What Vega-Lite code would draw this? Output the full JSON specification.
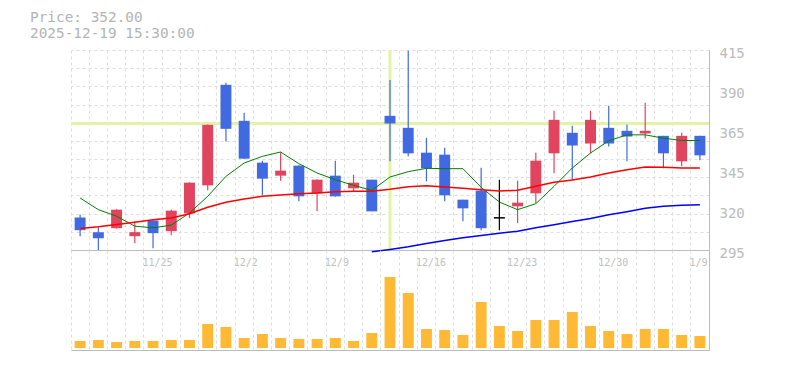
{
  "$schema": "https://vega.github.io/schema/vega-lite/v6.json",
  "background": "white",
  "padding": {"left": 30, "top": 10, "right": 5, "bottom": 5},
  "bounds": "flush",
  "spacing": 0,
  "title": {
    "text": ["Price: 352.00", "2025-12-19 15:30:00"],
    "anchor": "start",
    "frame": "group",
    "dx": -41,
    "offset": 5,
    "font": "DejaVu Sans Mono",
    "fontSize": 14.4,
    "fontWeight": "normal",
    "color": "#b4b4b4",
    "lineHeight": 15.3
  },
  "config": {
    "view": {"stroke": null},
    "font": "DejaVu Sans Mono",
    "axis": {
      "gridColor": "#dddddd",
      "gridDash": [3, 3],
      "gridWidth": 1,
      "domainColor": "#bbbbbb",
      "domainWidth": 1,
      "ticks": false,
      "labelOverlap": false,
      "labelFlush": false,
      "labelFont": "DejaVu Sans Mono",
      "labelColor": "#bbbbbb"
    }
  },
  "data": {
    "values": [
      {"date": "11/18", "open": 314.5, "high": 316.2, "low": 303.3, "close": 306.9, "volume": 7000, "ma_short": 326.2, "ma_mid": 307.9, "ma_long": null},
      {"date": "11/19", "open": 305.7, "high": 308.7, "low": 295.0, "close": 302.1, "volume": 8000, "ma_short": 319.2, "ma_mid": 308.9, "ma_long": null},
      {"date": "11/20", "open": 308.1, "high": 319.4, "low": 307.9, "close": 319.2, "volume": 6000, "ma_short": 315.3, "ma_mid": 310.3, "ma_long": null},
      {"date": "11/21", "open": 303.3, "high": 312.3, "low": 299.1, "close": 305.7, "volume": 7000, "ma_short": 309.3, "ma_mid": 311.7, "ma_long": null},
      {"date": "11/25", "open": 312.7, "high": 312.7, "low": 296.1, "close": 305.1, "volume": 7000, "ma_short": 308.3, "ma_mid": 313.1, "ma_long": null},
      {"date": "11/26", "open": 306.3, "high": 319.2, "low": 303.9, "close": 318.6, "volume": 8000, "ma_short": 309.9, "ma_mid": 314.2, "ma_long": null},
      {"date": "11/27", "open": 317.0, "high": 335.6, "low": 314.1, "close": 335.4, "volume": 8000, "ma_short": 317.2, "ma_mid": 316.8, "ma_long": null},
      {"date": "11/28", "open": 333.8, "high": 370.3, "low": 330.8, "close": 370.1, "volume": 24000, "ma_short": 327.2, "ma_mid": 320.6, "ma_long": null},
      {"date": "12/1", "open": 394.1, "high": 395.3, "low": 360.1, "close": 367.7, "volume": 21000, "ma_short": 339.2, "ma_mid": 323.6, "ma_long": null},
      {"date": "12/2", "open": 372.5, "high": 377.3, "low": 349.6, "close": 349.8, "volume": 10000, "ma_short": 347.2, "ma_mid": 325.6, "ma_long": null},
      {"date": "12/3", "open": 347.4, "high": 348.6, "low": 327.8, "close": 337.8, "volume": 14000, "ma_short": 351.2, "ma_mid": 327.2, "ma_long": null},
      {"date": "12/4", "open": 339.6, "high": 353.6, "low": 336.6, "close": 342.6, "volume": 10000, "ma_short": 353.8, "ma_mid": 328.0, "ma_long": null},
      {"date": "12/5", "open": 345.6, "high": 345.8, "low": 324.2, "close": 327.2, "volume": 9000, "ma_short": 346.8, "ma_mid": 328.8, "ma_long": null},
      {"date": "12/8", "open": 329.0, "high": 337.4, "low": 318.2, "close": 337.2, "volume": 9000, "ma_short": 341.2, "ma_mid": 329.2, "ma_long": null},
      {"date": "12/9", "open": 339.6, "high": 348.6, "low": 327.0, "close": 327.2, "volume": 10000, "ma_short": 337.2, "ma_mid": 330.0, "ma_long": null},
      {"date": "12/10", "open": 332.0, "high": 340.2, "low": 330.2, "close": 335.4, "volume": 7000, "ma_short": 333.8, "ma_mid": 330.2, "ma_long": null},
      {"date": "12/11", "open": 337.2, "high": 337.2, "low": 318.2, "close": 318.2, "volume": 15000, "ma_short": 330.8, "ma_mid": 330.2, "ma_long": 293.9},
      {"date": "12/12", "open": 375.5, "high": 397.0, "low": 348.2, "close": 370.9, "volume": 71000, "ma_short": 338.8, "ma_mid": 331.4, "ma_long": 295.3},
      {"date": "12/15", "open": 368.3, "high": 414.5, "low": 351.2, "close": 353.0, "volume": 55000, "ma_short": 342.0, "ma_mid": 333.0, "ma_long": 296.9},
      {"date": "12/16", "open": 353.4, "high": 362.3, "low": 336.2, "close": 344.0, "volume": 19000, "ma_short": 344.0, "ma_mid": 333.6, "ma_long": 298.9},
      {"date": "12/17", "open": 352.2, "high": 356.4, "low": 324.2, "close": 327.8, "volume": 18000, "ma_short": 343.8, "ma_mid": 332.8, "ma_long": 300.7},
      {"date": "12/18", "open": 325.2, "high": 325.2, "low": 312.3, "close": 320.0, "volume": 13000, "ma_short": 343.8, "ma_mid": 332.0, "ma_long": 302.3},
      {"date": "12/19", "open": 330.6, "high": 344.4, "low": 306.9, "close": 308.1, "volume": 46000, "ma_short": 332.6, "ma_mid": 331.2, "ma_long": 303.7},
      {"date": "12/22", "open": 314.3, "high": 337.2, "low": 306.9, "close": 314.3, "volume": 22000, "ma_short": 323.8, "ma_mid": 330.4, "ma_long": 305.0},
      {"date": "12/23", "open": 321.2, "high": 336.6, "low": 311.1, "close": 323.4, "volume": 17000, "ma_short": 319.2, "ma_mid": 330.8, "ma_long": 306.3},
      {"date": "12/24", "open": 329.0, "high": 353.4, "low": 323.2, "close": 348.6, "volume": 28000, "ma_short": 322.8, "ma_mid": 333.2, "ma_long": 308.3},
      {"date": "12/25", "open": 353.0, "high": 378.5, "low": 341.0, "close": 373.1, "volume": 28000, "ma_short": 333.2, "ma_mid": 335.6, "ma_long": 310.1},
      {"date": "12/26", "open": 365.3, "high": 369.5, "low": 336.8, "close": 357.7, "volume": 36000, "ma_short": 344.2, "ma_mid": 337.0, "ma_long": 312.1},
      {"date": "12/29", "open": 358.9, "high": 378.5, "low": 353.0, "close": 373.1, "volume": 22000, "ma_short": 353.2, "ma_mid": 338.8, "ma_long": 313.9},
      {"date": "12/30", "open": 368.3, "high": 381.5, "low": 357.1, "close": 358.9, "volume": 17000, "ma_short": 360.5, "ma_mid": 341.2, "ma_long": 316.1},
      {"date": "1/5", "open": 366.5, "high": 370.1, "low": 348.2, "close": 363.1, "volume": 14000, "ma_short": 364.1, "ma_mid": 343.2, "ma_long": 318.0},
      {"date": "1/6", "open": 364.9, "high": 383.3, "low": 361.9, "close": 366.5, "volume": 19000, "ma_short": 364.1, "ma_mid": 344.8, "ma_long": 320.0},
      {"date": "1/7", "open": 363.5, "high": 363.5, "low": 344.0, "close": 353.0, "volume": 19000, "ma_short": 362.1, "ma_mid": 344.6, "ma_long": 321.2},
      {"date": "1/8", "open": 348.2, "high": 365.3, "low": 345.2, "close": 363.5, "volume": 13000, "ma_short": 360.7, "ma_mid": 344.2, "ma_long": 321.8},
      {"date": "1/9", "open": 363.5, "high": 363.5, "low": 348.8, "close": 351.8, "volume": 12000, "ma_short": 360.7, "ma_mid": 344.2, "ma_long": 322.2}
    ]
  },
  "vconcat": [
    {
      "width": 638,
      "height": 200,
      "layer": [
        {
          "mark": {"type": "rule", "color": "#e3f3a6", "strokeWidth": 3},
          "encoding": {
            "y": {
              "field": "close", "type": "quantitative",
              "scale": {"domain": [295, 415], "zero": false, "nice": false},
              "title": null,
              "axis": {
                "orient": "right",
                "values": [295, 305.909, 316.818, 327.727, 338.636, 349.545, 360.455, 371.364, 382.273, 393.182, 404.091, 415],
                "tickCount": 30,
                "grid": true, "labels": false, "ticks": false, "domain": false,
                "minExtent": 0, "maxExtent": 0, "title": null
              }
            },
            "strokeOpacity": {"condition": {"test": "datum.date == '12/12'", "value": 1}, "value": 0}
          }
        },
        {
          "layer": [
            {
              "mark": {"type": "rule", "color": "#e3f3a6", "strokeWidth": 3},
              "encoding": {
                "x": {
                  "field": "date", "type": "ordinal", "sort": null,
                  "scale": {"paddingInner": 0, "paddingOuter": 0},
                  "title": null,
                  "axis": {
                    "grid": true, "bandPosition": 0, "ticks": false, "domain": true,
                    "labelExpr": "indexof(['11/25','12/2','12/9','12/16','12/23','12/30','1/9'], datum.value) >= 0 ? datum.value : ''",
                    "labelAngle": 0, "labelAlign": "left", "labelBaseline": "top",
                    "labelOffset": -10.5, "labelPadding": 7, "labelFontSize": 10,
                    "labelColor": "#c0c0c0", "labelOverlap": false, "labelFlush": false, "labelBound": false,
                    "title": null
                  }
                },
                "strokeOpacity": {"condition": {"test": "datum.date == '12/12'", "value": 1}, "value": 0}
              }
            },
            {
              "mark": {"type": "rule", "strokeWidth": 1.2},
              "encoding": {
                "x": {"field": "date", "type": "ordinal", "sort": null},
                "y": {
                  "field": "low", "type": "quantitative", "title": null,
                  "axis": {
                    "orient": "right",
                    "values": [295, 319, 343, 367, 391, 415],
                    "tickCount": 30,
                    "labelExpr": "format(round(datum.value / 5) * 5, 'd')",
                    "grid": false, "ticks": false, "domain": true,
                    "labelPadding": 10, "labelAlign": "left", "labelBaseline": "middle",
                    "labelOffset": 3, "labelFontSize": 14, "labelColor": "#bbbbbb",
                    "labelFlush": false, "labelOverlap": false, "title": null
                  }
                },
                "y2": {"field": "high"},
                "color": {
                  "condition": [
                    {"test": "datum.close > datum.open", "value": "#e0445e"},
                    {"test": "datum.close < datum.open", "value": "#4169e1"}
                  ],
                  "value": "#000000"
                }
              }
            },
            {
              "mark": {"type": "bar", "width": {"band": 0.6}},
              "encoding": {
                "x": {"field": "date", "type": "ordinal", "sort": null},
                "y": {"field": "open", "type": "quantitative", "title": null},
                "y2": {"field": "close"},
                "color": {
                  "condition": [
                    {"test": "datum.close > datum.open", "value": "#e0445e"},
                    {"test": "datum.close < datum.open", "value": "#4169e1"}
                  ],
                  "value": "#000000"
                }
              }
            },
            {
              "mark": {"type": "tick", "color": "#000000", "thickness": 1.5, "size": 11},
              "encoding": {
                "x": {"field": "date", "type": "ordinal", "sort": null},
                "y": {"field": "open", "type": "quantitative", "title": null},
                "opacity": {"condition": {"test": "datum.open == datum.close", "value": 1}, "value": 0}
              }
            },
            {
              "mark": {"type": "line", "color": "#008000", "strokeWidth": 1},
              "encoding": {
                "x": {"field": "date", "type": "ordinal", "sort": null},
                "y": {"field": "ma_short", "type": "quantitative", "title": null},
                "order": {"value": null}
              }
            },
            {
              "mark": {"type": "line", "color": "#ff0000", "strokeWidth": 1.5},
              "encoding": {
                "x": {"field": "date", "type": "ordinal", "sort": null},
                "y": {"field": "ma_mid", "type": "quantitative", "title": null},
                "order": {"value": null}
              }
            },
            {
              "mark": {"type": "line", "color": "#0000ff", "strokeWidth": 1.5},
              "encoding": {
                "x": {"field": "date", "type": "ordinal", "sort": null},
                "y": {"field": "ma_long", "type": "quantitative", "title": null},
                "order": {"value": null}
              }
            }
          ]
        }
      ],
      "resolve": {"axis": {"y": "independent"}}
    },
    {
      "width": 638,
      "height": 100,
      "mark": {"type": "bar", "color": "#ffb934", "width": {"band": 0.6}},
      "encoding": {
        "x": {
          "field": "date", "type": "ordinal", "sort": null,
          "scale": {"paddingInner": 0, "paddingOuter": 0},
          "title": null,
          "axis": {"grid": true, "bandPosition": 0, "labels": false, "ticks": false, "domain": true, "title": null}
        },
        "y": {
          "field": "volume", "type": "quantitative",
          "scale": {"domain": [-2000, 98000], "zero": false, "nice": false},
          "title": null,
          "axis": {"orient": "right", "labels": false, "ticks": false, "grid": false, "domain": true, "minExtent": 0, "title": null}
        }
      }
    }
  ]
}
